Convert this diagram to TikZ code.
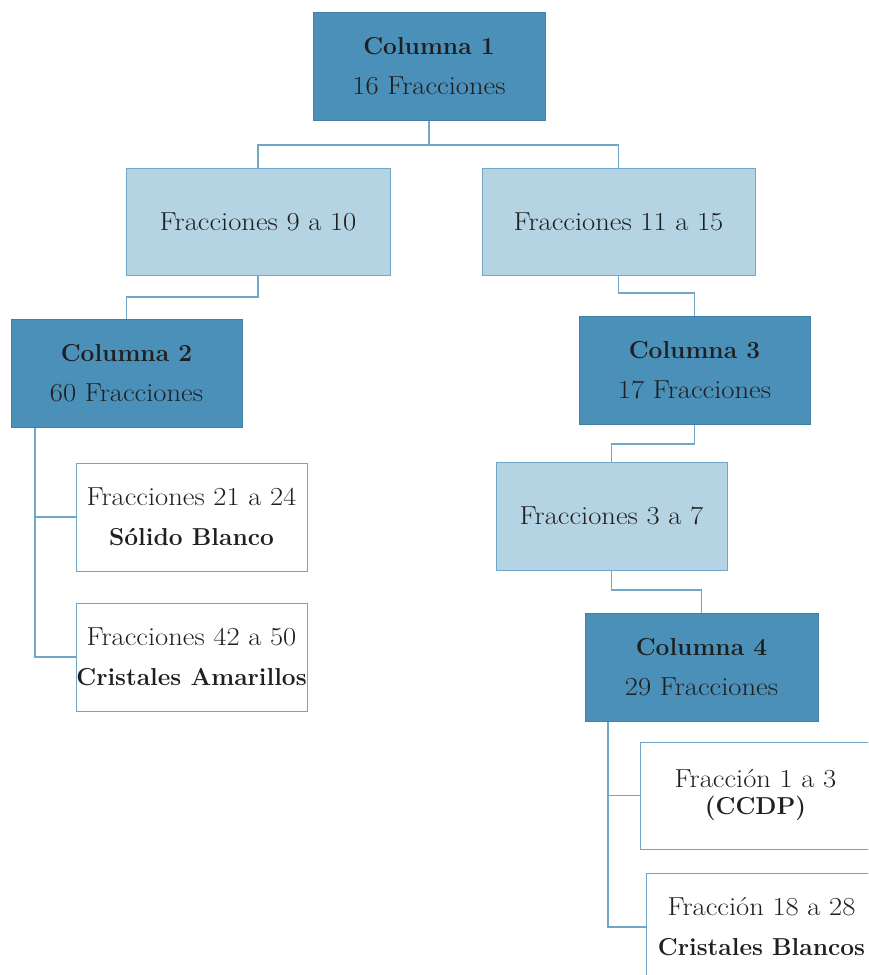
\documentclass[tikz,border=0pt]{standalone}
\usepackage{fontspec}
\setmainfont{Latin Modern Roman}
\newfontfamily\widefont{Latin Modern Roman}[FakeStretch=1.1]
\newcommand\bt[1]{{\normalfont\bfseries\fontsize{24.5}{40}\selectfont #1}}
\definecolor{cdark}{RGB}{74,144,185}
\definecolor{clight}{RGB}{180,212,228}
\definecolor{cborder}{RGB}{66,128,168}
\definecolor{cline}{RGB}{112,166,200}
\tikzset{
  box/.style={rectangle, inner sep=0pt, align=center, line width=1pt,
    font=\widefont\fontsize{26}{40}\selectfont, text=black!88},
  darkbox/.style={box, draw=cborder, fill=cdark, minimum width=232pt, minimum height=108pt},
  lightbox/.style={box, draw=cline, fill=clight, minimum height=107pt},
  whitebox/.style={box, draw=cline, fill=white, minimum width=231pt, minimum height=108pt},
  conn/.style={draw=cline, line width=1.5pt}
}
\begin{document}
\begin{tikzpicture}[x=1pt,y=-1pt]
\useasboundingbox (0,0) rectangle (868,975);
\clip (0,0) rectangle (868,975);
\node[darkbox] (C1) at (429,66) {\bt{Columna 1}\\16 Fracciones};
\node[lightbox, minimum width=264pt] (F910) at (258,221.5) {Fracciones 9 a 10};
\node[lightbox, minimum width=273pt] (F1115) at (618.5,221.5) {Fracciones 11 a 15};
\node[darkbox, minimum width=231pt] (C2) at (126.5,373) {\bt{Columna 2}\\60 Fracciones};
\node[darkbox, minimum width=231pt] (C3) at (694.5,370) {\bt{Columna 3}\\17 Fracciones};
\node[whitebox] (F2124) at (191.5,517) {Fracciones 21 a 24\\\bt{Sólido Blanco}};
\node[whitebox] (F4250) at (191.5,657) {Fracciones 42 a 50\\\bt{Cristales Amarillos}};
\node[lightbox, minimum width=231pt, minimum height=108pt] (F37) at (611.5,516) {Fracciones 3 a 7};
\node[darkbox, minimum width=233pt] (C4) at (701.5,667) {\bt{Columna 4}\\29 Fracciones};
\node[whitebox, minimum height=107pt, font=\widefont\fontsize{26}{27}\selectfont] (F13) at (755.5,795.5) {Fracción 1 a 3\\{\normalfont\bfseries\fontsize{24.5}{27}\selectfont (CCDP)}};
\node[whitebox] (F1828) at (761.5,927) {Fracción 18 a 28\\\bt{Cristales Blancos}};
\coordinate (j1) at (430,145);
\coordinate (j2) at (258,297);
\coordinate (j3) at (620,293);
\coordinate (j4) at (695,444);
\coordinate (j5) at (612,590);
\coordinate (r2) at (35,0);
\coordinate (r4) at (608,0);
\draw[conn] (C1.south) -- (C1.south |- j1) -| (F910.north);
\draw[conn] (C1.south |- j1) -| (F1115.north);
\draw[conn] (F910.south) -- (F910.south |- j2) -| (C2.north);
\draw[conn] (F1115.south) -- (F1115.south |- j3) -| (C3.north);
\draw[conn] (C3.south) -- (C3.south |- j4) -| (F37.north);
\draw[conn] (F37.south) -- (F37.south |- j5) -| (C4.north);
\draw[conn] (C2.south -| r2) |- (F2124.west);
\draw[conn] (C2.south -| r2) |- (F4250.west);
\draw[conn] (C4.south -| r4) |- (F13.west);
\draw[conn] (C4.south -| r4) |- (F1828.west);
\end{tikzpicture}
\end{document}
